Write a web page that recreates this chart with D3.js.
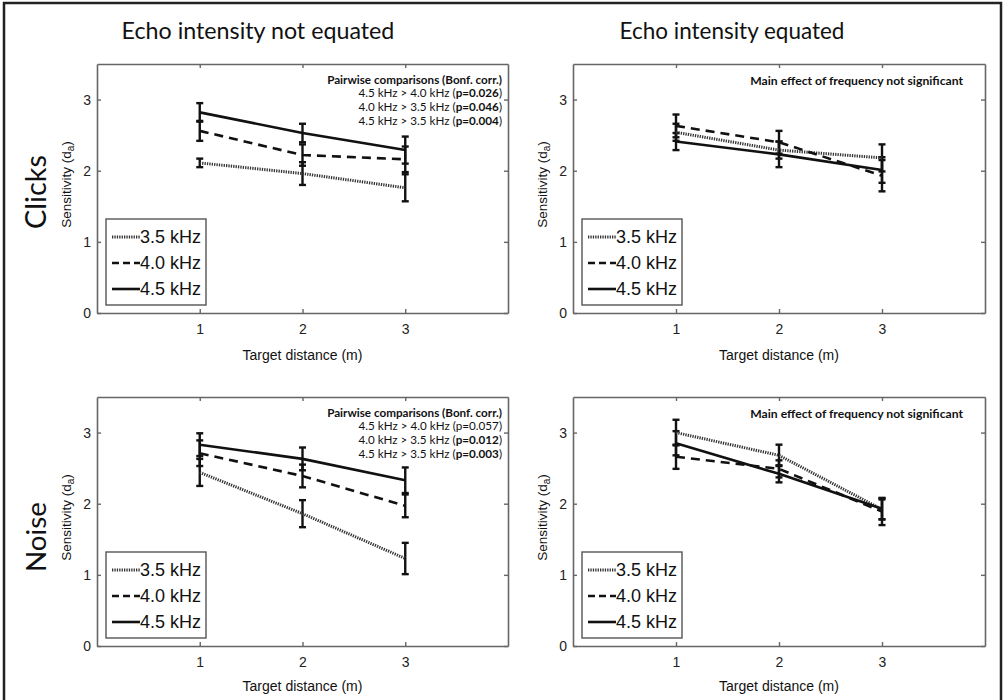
<!DOCTYPE html>
<html><head><meta charset="utf-8">
<script src="https://cdn.jsdelivr.net/npm/d3@7"></script>
<style>body{margin:0;background:#fff}</style>
</head><body>
<svg id="c" width="1004" height="700"></svg>
<script>
// ---------- data ----------
const distances = [1, 2, 3];
const frequencies = ["3.5 kHz", "4.0 kHz", "4.5 kHz"];
const xTicks = [1, 2, 3];
const yTicks = [0, 1, 2, 3];
const columnTitles = ["Echo intensity not equated", "Echo intensity equated"];
const rowTitles = ["Clicks", "Noise"];
const xAxisLabel = "Target distance (m)";

// rows: 3.5, 4.0, 4.5 kHz ; columns: distance 1, 2, 3 m
const clicksNotEquatedMean = [[2.11, 1.96, 1.76], [2.56, 2.22, 2.16], [2.82, 2.53, 2.29]];
const clicksNotEquatedErr  = [[0.06, 0.16, 0.19], [0.14, 0.15, 0.18], [0.13, 0.13, 0.19]];
const clicksEquatedMean    = [[2.54, 2.29, 2.18], [2.63, 2.40, 1.93], [2.41, 2.23, 2.01]];
const clicksEquatedErr     = [[0.12, 0.12, 0.19], [0.16, 0.16, 0.22], [0.12, 0.18, 0.18]];
const noiseNotEquatedMean  = [[2.44, 1.86, 1.23], [2.71, 2.39, 1.97], [2.83, 2.63, 2.33]];
const noiseNotEquatedErr   = [[0.19, 0.19, 0.22], [0.18, 0.16, 0.16], [0.16, 0.16, 0.18]];
const noiseEquatedMean     = [[3.00, 2.68, 1.92], [2.66, 2.49, 1.89], [2.85, 2.42, 1.93]];
const noiseEquatedErr      = [[0.18, 0.15, 0.14], [0.17, 0.12, 0.19], [0.17, 0.12, 0.15]];

const pairwiseHeader = "Pairwise comparisons (Bonf. corr.)";
const pairwiseComparisons = ["4.5 kHz > 4.0 kHz", "4.0 kHz > 3.5 kHz", "4.5 kHz > 3.5 kHz"];
const clicksPairwiseP = ["0.026", "0.046", "0.004"];
const noisePairwiseP  = ["0.057", "0.012", "0.003"];
const notSignificantNote = "Main effect of frequency not significant";

// ---------- layout ----------
const svg = d3.select("#c");
const cols = [{x0: 97, x1: 508}, {x0: 573, x1: 985}];
const rows = [{y0: 64, y1: 313, lab: 47}, {y0: 397, y1: 646, lab: 45}];
const AX = "#666";
const styles = [
  {dash: "1.3,1.1", width: 3, color: "#333"},
  {dash: "9,6", width: 2.6, color: "#111"},
  {dash: null, width: 2.6, color: "#111"}
];

svg.append("path").attr("d", "M4,700 V3 H1001 V700")
  .attr("fill", "none").attr("stroke", "#222").attr("stroke-width", 2.5);

function fitFont(sel, target) {
  const len = sel.node().getComputedTextLength();
  const fs = parseFloat(sel.attr("font-size"));
  const nfs = fs * target / len;
  sel.attr("font-size", nfs);
  return nfs;
}

// column titles
const titleSpecs = [{cx: 258, w: 273}, {cx: 732, w: 225}];
columnTitles.forEach((t, i) => {
  const s = svg.append("text").attr("x", titleSpecs[i].cx).attr("y", 39)
    .attr("text-anchor", "middle").attr("font-family", "Lato").attr("font-size", 24)
    .attr("fill", "#111").text(t);
  fitFont(s, titleSpecs[i].w);
});
// row titles
const rowCenters = [192, 537];
rowTitles.forEach((t, i) => {
  const s = svg.append("text").attr("transform", `translate(46,${rowCenters[i]}) rotate(-90)`)
    .attr("text-anchor", "middle").attr("font-family", "Lato").attr("font-size", 28)
    .attr("fill", "#111").text(t);
  fitFont(s, i === 0 ? 74 : 70);
});

const panels = [
  {r: 0, c: 0, mean: clicksNotEquatedMean, err: clicksNotEquatedErr, p: clicksPairwiseP},
  {r: 0, c: 1, mean: clicksEquatedMean, err: clicksEquatedErr, p: null},
  {r: 1, c: 0, mean: noiseNotEquatedMean, err: noiseNotEquatedErr, p: noisePairwiseP},
  {r: 1, c: 1, mean: noiseEquatedMean, err: noiseEquatedErr, p: null}
];

panels.forEach(pn => {
  const {x0, x1} = cols[pn.c];
  const {y0, y1, lab} = rows[pn.r];
  const x = d3.scaleLinear().domain([0, 4]).range([x0, x1]);
  const y = d3.scaleLinear().domain([0, 3.5]).range([y1, y0]);
  const g = svg.append("g");
  const fmt = d3.format("d");

  // axes (MATLAB box style, inward ticks)
  const ax = [
    g.append("g").attr("transform", `translate(0,${y1})`).call(d3.axisBottom(x).tickValues(xTicks).tickFormat(fmt).tickSizeInner(-4).tickSizeOuter(0).tickPadding(8)),
    g.append("g").attr("transform", `translate(0,${y0})`).call(d3.axisTop(x).tickValues(xTicks).tickSizeInner(-4).tickSizeOuter(0).tickFormat("")),
    g.append("g").attr("transform", `translate(${x0},0)`).call(d3.axisLeft(y).tickValues(yTicks).tickFormat(fmt).tickSizeInner(-4).tickSizeOuter(0).tickPadding(6)),
    g.append("g").attr("transform", `translate(${x1},0)`).call(d3.axisRight(y).tickValues(yTicks).tickSizeInner(-4).tickSizeOuter(0).tickFormat(""))
  ];
  ax.forEach(a => {
    a.select(".domain").attr("stroke", AX).attr("stroke-width", 1.6);
    a.selectAll(".tick line").attr("stroke", AX).attr("stroke-width", 1.4);
    a.selectAll(".tick text").attr("font-family", "Liberation Sans").attr("font-size", 14).attr("fill", "#222");
  });
  ax[0].selectAll(".tick text").attr("dy", "0.9em");

  // x label
  g.append("text").attr("x", (x0 + x1) / 2).attr("y", y1 + lab).attr("text-anchor", "middle")
    .attr("font-family", "Liberation Sans").attr("font-size", 14).attr("fill", "#111").text(xAxisLabel);
  // y label
  const yl = g.append("text").attr("transform", `translate(${x0 - 26},${(y0 + y1) / 2 - 4}) rotate(-90)`)
    .attr("text-anchor", "middle").attr("font-family", "Liberation Sans").attr("font-size", 13.5).attr("fill", "#111");
  yl.append("tspan").text("Sensitivity (d");
  yl.append("tspan").attr("font-size", 10).attr("dy", 3).text("a");
  yl.append("tspan").attr("dy", -3).text(")");

  // error bars
  pn.mean.forEach((ser, si) => {
    ser.forEach((m, di) => {
      const e = pn.err[si][di], cx = x(distances[di]);
      const eg = g.append("g").attr("stroke", "#111").attr("stroke-width", 2.4);
      eg.append("line").attr("x1", cx).attr("x2", cx).attr("y1", y(m - e)).attr("y2", y(m + e));
      eg.append("line").attr("x1", cx - 3.5).attr("x2", cx + 3.5).attr("y1", y(m - e)).attr("y2", y(m - e));
      eg.append("line").attr("x1", cx - 3.5).attr("x2", cx + 3.5).attr("y1", y(m + e)).attr("y2", y(m + e));
    });
  });
  // lines
  const line = d3.line().x((d, i) => x(distances[i])).y(d => y(d));
  pn.mean.forEach((ser, si) => {
    const st = styles[si];
    g.append("path").attr("d", line(ser)).attr("fill", "none").attr("stroke", st.color)
      .attr("stroke-width", st.width).attr("stroke-dasharray", st.dash);
  });

  // legend
  const lg = g.append("g").attr("transform", `translate(${x0 + 9},${y1 - 94})`);
  lg.append("rect").attr("width", 100).attr("height", 86).attr("fill", "#fff").attr("stroke", "#555").attr("stroke-width", 1.4);
  frequencies.forEach((f, si) => {
    const st = styles[si], ly = 18 + si * 26;
    lg.append("line").attr("x1", 6).attr("x2", 34).attr("y1", ly).attr("y2", ly)
      .attr("stroke", st.color).attr("stroke-width", st.width).attr("stroke-dasharray", si === 1 ? "7,4" : st.dash);
    lg.append("text").attr("x", 34).attr("y", ly).attr("dy", "0.35em").attr("font-family", "Liberation Sans")
      .attr("font-size", 18).attr("fill", "#111").text(f);
  });

  // annotations
  if (pn.p) {
    const ax1 = x1 - 6;
    const h = g.append("text").attr("x", ax1).attr("y", y0 + 16).attr("dy", "0.35em").attr("text-anchor", "end")
      .attr("font-family", "Lato").attr("font-weight", "bold").attr("font-size", 11).attr("fill", "#111").text(pairwiseHeader);
    const fs = fitFont(h, 175);
    pairwiseComparisons.forEach((cmp, k) => {
      const t = g.append("text").attr("x", ax1).attr("y", y0 + 29 + k * 14).attr("dy", "0.35em").attr("text-anchor", "end")
        .attr("font-family", "Lato").attr("font-size", fs).attr("fill", "#111");
      const sig = parseFloat(pn.p[k]) < 0.05;
      t.append("tspan").text(cmp + " (");
      t.append("tspan").attr("font-weight", sig ? "bold" : "normal").text("p=" + pn.p[k]);
      t.append("tspan").text(")");
    });
  } else {
    const n = g.append("text").attr("x", x1 - 22).attr("y", y0 + 17).attr("dy", "0.35em").attr("text-anchor", "end")
      .attr("font-family", "Lato").attr("font-weight", "bold").attr("font-size", 11).attr("fill", "#111").text(notSignificantNote);
    fitFont(n, 213);
  }
});
</script>
</body></html>
